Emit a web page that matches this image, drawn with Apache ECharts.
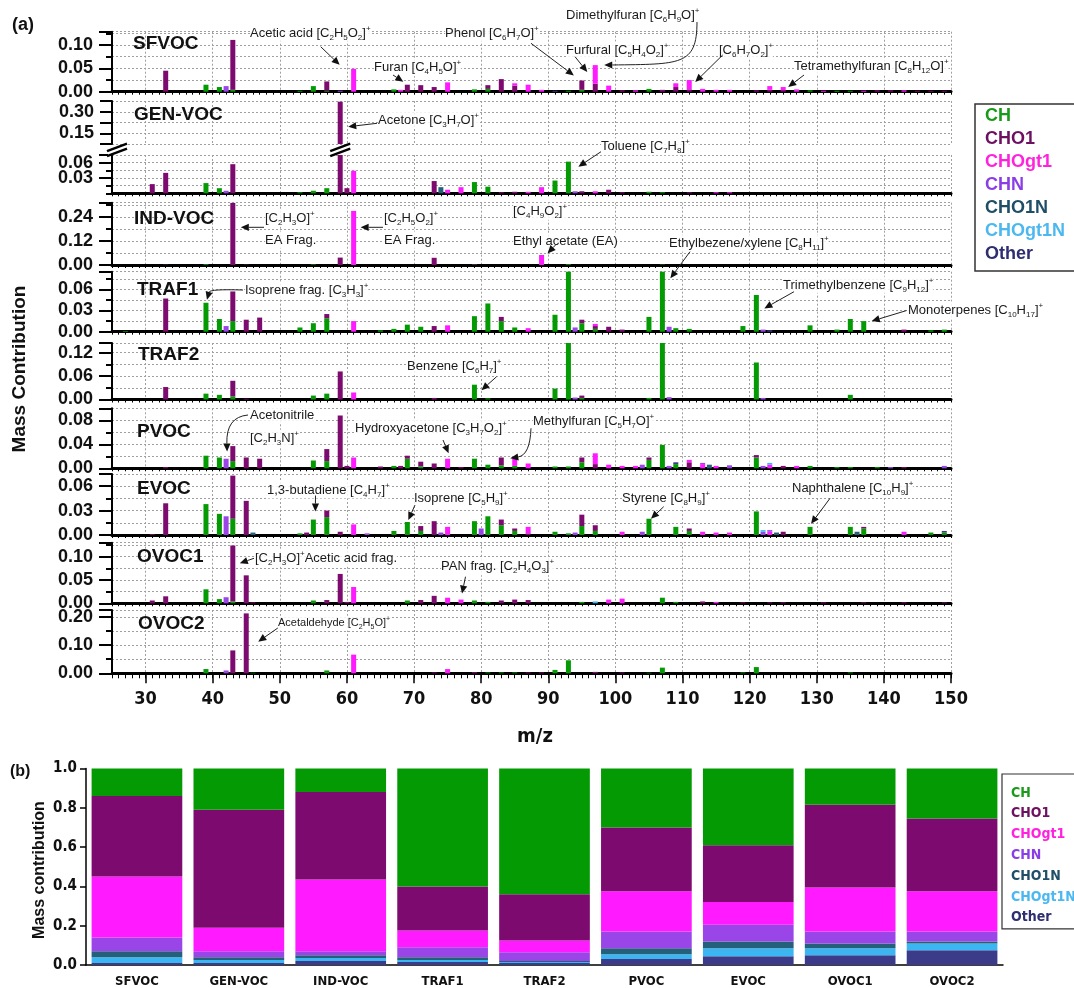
<!DOCTYPE html>
<html><head><meta charset="utf-8">
<script src="https://cdn.jsdelivr.net/npm/echarts@6/dist/echarts.min.js"></script>
<style>html,body{margin:0;padding:0;background:#fff}#c{width:1074px;height:988px}</style>
</head><body><div id="c"></div>
<script>
// ---------------- DATA ----------------
const MZ_START = 25, MZ_END = 150;
const GROUPS = ['CH','CHO1','CHOgt1','CHN','CHO1N','CHOgt1N','Other'];
const X_TICK_LABELS = ['30','40','50','60','70','80','90','100','110','120','130','140','150'];

// panel (a): sparse [m/z, mass contribution] per group
const SFVOC = {
  CH: [[39,.015],[41,.01],[43,.004],[53,.002],[55,.012],[57,.002],[67,.005],[79,.005],[81,.006],[93,.002],[95,.004],[105,.006],[129,.003],[133,.002],[135,.002]],
  CHO1: [[33,.045],[43,.107],[57,.02],[69,.015],[71,.014],[73,.01],[81,.008],[83,.027],[85,.013],[95,.02],[97,.017],[101,.003],[107,.004],[109,.01],[111,.005],[121,.003],[123,.004],[125,.003],[139,.003],[141,.003],[145,.002],[147,.002],[149,.002]],
  CHOgt1: [[61,.049],[68,.004],[75,.02],[85,.005],[87,.015],[89,.004],[97,.04],[99,.013],[103,.003],[109,.008],[111,.02],[113,.006],[115,.004],[117,.004],[123,.008],[125,.007],[127,.005],[131,.002],[137,.002],[143,.003]],
  CHN: [[42,.012],[59,.002]],
  CHO1N: [], CHOgt1N: [], Other: [[91,.002]]
};
const GENVOC = {
  CH: [[39,.02],[41,.01],[53,.002],[55,.005],[57,.01],[79,.022],[81,.013],[91,.025],[93,.062],[105,.003],[107,.002]],
  CHO1: [[31,.018],[33,.04],[43,.057],[59,.37],[60,.01],[73,.024],[83,.002],[85,.003],[95,.004],[99,.007],[101,.002],[111,.002]],
  CHOgt1: [[61,.044],[75,.007],[77,.012],[87,.003],[89,.012],[97,.004],[115,.002],[117,.002]],
  CHN: [[42,.005],[94,.004]],
  CHO1N: [[74,.012]], CHOgt1N: [], Other: []
};
const INDVOC = {
  CH: [[39,.004],[55,.003],[79,.002],[93,.004],[107,.002]],
  CHO1: [[33,.002],[43,.31],[45,.002],[59,.037],[73,.036],[79,.003]],
  CHOgt1: [[61,.27],[89,.05]],
  CHN: [], CHO1N: [], CHOgt1N: [], Other: []
};
const TRAF1 = {
  CH: [[27,.001],[39,.041],[41,.018],[43,.015],[53,.006],[55,.012],[57,.019],[65,.002],[67,.004],[69,.01],[71,.007],[79,.022],[81,.04],[83,.015],[85,.006],[91,.024],[93,.09],[95,.012],[97,.004],[105,.021],[107,.09],[109,.005],[111,.004],[119,.008],[121,.052],[129,.009],[133,.003],[135,.018],[137,.015],[147,.002],[149,.003]],
  CHO1: [[33,.047],[43,.042],[45,.017],[47,.02],[57,.006],[73,.008],[83,.006],[95,.005],[97,.004],[99,.007],[101,.003],[143,.003]],
  CHOgt1: [[61,.015],[75,.009],[87,.005],[97,.003]],
  CHN: [[42,.008],[94,.006],[108,.007],[122,.003]],
  CHO1N: [], CHOgt1N: [], Other: [[123,.002]]
};
const TRAF2 = {
  CH: [[39,.015],[41,.012],[43,.008],[55,.01],[57,.015],[79,.038],[81,.003],[91,.028],[93,.16],[95,.004],[105,.004],[107,.16],[121,.095],[135,.012]],
  CHO1: [[33,.032],[43,.04],[45,.002],[59,.072],[73,.004],[95,.006]],
  CHOgt1: [[61,.018]],
  CHN: [[94,.005],[108,.006],[122,.004]],
  CHO1N: [], CHOgt1N: [], Other: []
};
const PVOC = {
  CH: [[39,.021],[41,.018],[43,.012],[55,.013],[57,.012],[67,.004],[69,.016],[71,.003],[79,.016],[81,.006],[83,.005],[85,.004],[91,.003],[93,.003],[95,.01],[105,.014],[107,.039],[109,.007],[121,.018],[129,.004],[133,.002],[135,.002],[139,.002]],
  CHO1: [[33,.002],[43,.025],[45,.018],[47,.016],[57,.02],[59,.088],[60,.004],[65,.003],[68,.004],[69,.005],[71,.008],[73,.008],[77,.002],[83,.013],[95,.008],[97,.007],[105,.004],[111,.01],[121,.004],[125,.004],[143,.002]],
  CHOgt1: [[61,.018],[75,.016],[85,.012],[87,.008],[97,.018],[99,.006],[101,.004],[103,.004],[111,.004],[113,.007],[115,.004],[123,.006],[127,.004]],
  CHN: [[42,.016],[104,.006],[108,.004],[113,.002],[117,.005],[122,.004],[141,.002],[149,.004]],
  CHO1N: [[114,.006]], CHOgt1N: [[123,.003]], Other: [[109,.003]]
};
const EVOC = {
  CH: [[39,.038],[41,.026],[43,.02],[53,.002],[55,.019],[57,.022],[67,.005],[69,.016],[71,.005],[79,.017],[81,.023],[83,.012],[85,.005],[91,.004],[93,.002],[95,.011],[97,.005],[105,.02],[109,.01],[111,.005],[121,.029],[129,.01],[135,.01],[137,.008],[147,.003],[149,.003]],
  CHO1: [[31,.001],[33,.039],[43,.053],[45,.042],[54,.003],[57,.008],[59,.004],[71,.006],[73,.017],[83,.007],[85,.003],[87,.002],[95,.014],[97,.007],[111,.003],[125,.004],[137,.002]],
  CHOgt1: [[61,.013],[75,.01],[87,.008],[101,.004],[113,.004],[115,.003],[117,.003],[123,.004],[143,.004]],
  CHN: [[42,.023],[63,.002],[74,.003],[80,.008],[94,.003],[104,.004],[122,.004],[123,.002]],
  CHO1N: [[46,.003],[124,.003],[136,.004]], CHOgt1N: [[122,.002]], Other: [[149,.002]]
};
const OVOC1 = {
  CH: [[39,.03],[41,.009],[43,.004],[55,.006],[69,.006],[79,.006],[81,.003],[95,.003],[107,.012],[109,.003]],
  CHO1: [[31,.006],[33,.015],[43,.12],[45,.06],[46,.002],[57,.007],[59,.063],[60,.003],[71,.007],[73,.016],[83,.006],[85,.008],[87,.007],[113,.004],[119,.002],[123,.002],[125,.002],[131,.002],[137,.002],[143,.002],[149,.002]],
  CHOgt1: [[61,.035],[75,.012],[77,.008],[99,.008],[101,.01],[115,.003]],
  CHN: [[42,.013]],
  CHO1N: [], CHOgt1N: [[97,.004]], Other: []
};
const OVOC2 = {
  CH: [[39,.015],[46,.002],[57,.01],[81,.003],[83,.003],[85,.003],[91,.012],[93,.046],[105,.002],[107,.02],[119,.003],[121,.022],[135,.003]],
  CHO1: [[43,.081],[45,.212],[73,.003],[79,.004],[87,.003],[89,.003],[97,.005],[101,.003]],
  CHOgt1: [[61,.066],[75,.015]],
  CHN: [[42,.01]],
  CHO1N: [], CHOgt1N: [], Other: []
};

// panel (b): fraction per factor profile
const PROFILES = ['SFVOC','GEN-VOC','IND-VOC','TRAF1','TRAF2','PVOC','EVOC','OVOC1','OVOC2'];
const FRAC_OTHER   = [0.010,0.010,0.020,0.015,0.010,0.030,0.045,0.050,0.075];
const FRAC_CHOGT1N = [0.030,0.015,0.015,0.010,0.005,0.025,0.040,0.035,0.035];
const FRAC_CHO1N   = [0.030,0.015,0.015,0.015,0.005,0.030,0.035,0.025,0.010];
const FRAC_CHN     = [0.070,0.030,0.020,0.050,0.045,0.085,0.085,0.060,0.050];
const FRAC_CHOGT1  = [0.310,0.120,0.365,0.085,0.060,0.205,0.115,0.225,0.205];
const FRAC_CHO1    = [0.410,0.600,0.445,0.225,0.235,0.325,0.290,0.420,0.370];
const FRAC_CH      = [0.140,0.210,0.120,0.600,0.640,0.300,0.390,0.185,0.255];

// ---------------- STYLE / LAYOUT ----------------
const FONT = "'Liberation Sans', Arial, Helvetica, sans-serif";
const NARROW = "'Liberation Sans Narrow', 'DejaVu Sans Condensed', 'Liberation Sans', Arial, sans-serif";
const COLORS = {CH:'#039a03', CHO1:'#7d0a6e', CHOgt1:'#ff1aff', CHN:'#9a45e8', CHO1N:'#24607a', CHOgt1N:'#3cb6f2', Other:'#3b3b8a'};
const LEG_COLORS = {CH:'#1a9a1a', CHO1:'#6e1060', CHOgt1:'#ff22dd', CHN:'#8a3ee6', CHO1N:'#1f4e66', CHOgt1N:'#4cb8f0', Other:'#2e2e70'};
const GRID_LEFT = 112, GRID_W = 839;
const LAYOUT = [
  {data:SFVOC,  label:'SFVOC',   top:31.7,  h:60,   min:0,     max:0.1286, major:0.05,  minor:0.025, lx:133, ly:43.3},
  {data:GENVOC, label:'GEN-VOC', top:101,   h:43.1, min:0.075, max:0.375,  major:null,  minor:0.075, show:[0.15,0.30], noBase:true, lx:134, ly:115},
  {data:GENVOC, label:null,      top:155,   h:38.3, min:0,     max:0.075,  major:0.03,  minor:0.015},
  {data:INDVOC, label:'IND-VOC', top:202.7, h:62.3, min:0,     max:0.311,  major:0.12,  minor:0.06,  lx:134, ly:218.3},
  {data:TRAF1,  label:'TRAF1',   top:271.7, h:60,   min:0,     max:0.085,  major:0.03,  minor:0.015, lx:137, ly:290},
  {data:TRAF2,  label:'TRAF2',   top:343,   h:56.5, min:0,     max:0.145,  major:0.06,  minor:0.03,  lx:138, ly:355},
  {data:PVOC,   label:'PVOC',    top:408.3, h:60,   min:0,     max:0.1,    major:0.04,  minor:0.02,  lx:137, ly:431.7},
  {data:EVOC,   label:'EVOC',    top:474,   h:61,   min:0,     max:0.075,  major:0.03,  minor:0.015, lx:137, ly:488.3},
  {data:OVOC1,  label:'OVOC1',   top:542.7, h:60.6, min:0,     max:0.13,   major:0.05,  minor:0.025, lx:137, ly:556.7},
  {data:OVOC2,  label:'OVOC2',   top:610,   h:63.3, min:0,     max:0.224,  major:0.1,   minor:0.05,  lx:138, ly:623.3}
];
// annotations: text (left x, middle y), optional arrow from tail to a data point (+pixel nudge)
const ANNOTATIONS = [
  {t:'Acetic acid [C_2H_5O_2]^+', x:250, y:33.3, from:[320.7,46.7], g:0, tip:[61,.049], d:[-14,-4]},
  {t:'Furan [C_4H_5O]^+', x:374, y:67.7, from:[393,75], g:0, tip:[69,.015], d:[-4,-3]},
  {t:'Phenol [C_6H_7O]^+', x:445, y:33.3, from:[531,43.3], g:0, tip:[95,.024], d:[-8,-5]},
  {t:'Dimethylfuran [C_6H_9O]^+', x:566, y:15, from:[697,22], c1:[697,66], c2:[680,64], g:0, tip:[97,.057], d:[9,0]},
  {t:'Furfural [C_5H_4O_2]^+', x:566, y:50, from:[575,56.7], g:0, tip:[97,.04], d:[-8,-1]},
  {t:'[C_6H_7O_2]^+', x:719, y:50, from:[722.7,55], g:0, tip:[111,.025], d:[6,2]},
  {t:'Tetramethylfuran [C_8H_12O]^+', x:794, y:66.7, from:[804,75], g:0, tip:[125,.01], d:[5,0]},
  {t:'Acetone [C_3H_7O]^+', x:378, y:120, from:[377,123.3], g:1, tip:[59,.196], d:[8,0]},
  {t:'Toluene [C_7H_8]^+', x:601, y:146.7, from:[601,151.7], g:2, tip:[93,.052], d:[10,0]},
  {t:'[C_2H_3O]^+', x:265, y:218.3},
  {t:'EA Frag.', x:265, y:240, from:[264,227.3], g:3, tip:[43,.188], d:[8,0]},
  {t:'[C_2H_5O_2]^+', x:384, y:218.3},
  {t:'EA Frag.', x:384, y:240, from:[383,227.3], g:3, tip:[61,.188], d:[7,0]},
  {t:'[C_4H_9O_2]^+', x:513, y:211.7},
  {t:'Ethyl acetate (EA)', x:513, y:241.5, from:[556,244.5], g:3, tip:[89,.058], d:[6,0]},
  {t:'Ethylbezene/xylene [C_8H_11]^+', x:669, y:243.3, from:[690,251.7], g:4, tip:[107,.0757], d:[8,0]},
  {t:'Isoprene frag. [C_3H_3]^+', x:245, y:290, from:[243,290], c1:[210,289], g:4, tip:[39,.041], d:[1,-3]},
  {t:'Trimethylbenzene [C_9H_12]^+', x:783, y:285, from:[794,291.7], g:4, tip:[121,.033], d:[8,0]},
  {t:'Monoterpenes [C_10H_17]^+', x:908, y:310, from:[906.7,310.5], g:4, tip:[137,.015], d:[8,0]},
  {t:'Benzene [C_6H_7]^+', x:407, y:366.7, from:[496.6,376.7], g:5, tip:[79,.024], d:[7,0]},
  {t:'Acetonitrile', x:250, y:415},
  {t:'[C_2H_3N]^+', x:250, y:438.3, from:[248,415], c1:[226,417], g:6, tip:[42,.028], d:[1,0]},
  {t:'Hydroxyacetone [C_3H_7O_2]^+', x:355, y:428.3, from:[443,440], g:6, tip:[75,.025], d:[1,0]},
  {t:'Methylfuran [C_5H_7O]^+', x:533, y:421.7, from:[531,428.3], c1:[530,455], g:6, tip:[83,.0167], d:[9,0]},
  {t:'1,3-butadiene [C_4H_7]^+', x:267, y:490, from:[315.5,495.5], g:7, tip:[55,.019], d:[2,-8]},
  {t:'Isoprene [C_5H_9]^+', x:414, y:498.3, from:[415,505], g:7, tip:[69,.016], d:[1,-2]},
  {t:'Styrene [C_8H_9]^+', x:622, y:498.3, from:[663.7,506.7], g:7, tip:[105,.02], d:[2,0]},
  {t:'Naphthalene [C_10H_9]^+', x:792, y:488.3, from:[830,498.3], g:7, tip:[129,.01], d:[1,-3]},
  {t:'[C_2H_3O]^+Acetic acid frag.', x:255, y:558.3, from:[254,558.3], g:8, tip:[43,.086], d:[7,0]},
  {t:'PAN frag. [C_2H_4O_3]^+', x:441, y:566.7, from:[465.5,576.7], g:8, tip:[77,.008], d:[1,-6]},
  {t:'Acetaldehyde [C_2H_5O]^+', x:278, y:623.3, fs:11, from:[277.8,628], g:9, tip:[45,.112], d:[12,0]}
];

// ---------------- BUILD ----------------
const MZ = [];
for (let m = MZ_START; m <= MZ_END; m++) MZ.push(String(m));
function dense(list) {
  const a = MZ.map(() => 0);
  (list || []).forEach(p => { a[p[0] - MZ_START] += p[1]; });
  return a;
}
const isTen = (i, v) => X_TICK_LABELS.indexOf(String(v)) >= 0;
const DOT = {type:[2,2], color:'#a0a0a0', width:1};
const grids = [], xAxes = [], yAxes = [], series = [];

LAYOUT.forEach((L, i) => {
  grids.push({left:GRID_LEFT, width:GRID_W, top:L.top, height:L.h});
  xAxes.push({
    type:'category', gridIndex:i, data:MZ, boundaryGap:false,
    axisLine:{show:!L.noBase, onZero:false, lineStyle:{color:'#000', width:3}},
    axisTick:{show:!L.noBase, interval:0, length:i===9?5:3, lineStyle:{color:'#000', width:1}},
    axisLabel:{show:false},
    splitLine:{show:true, interval:isTen, lineStyle:DOT}
  });
  yAxes.push({
    type:'value', gridIndex:i, position:'left', min:L.min, max:L.max, interval:L.minor,
    axisLine:{show:true, lineStyle:{color:'#000', width:2}},
    axisTick:{show:true, length:L.major ? 6 : 12, lineStyle:{color:'#000', width:2}},
    splitLine:{show:true, lineStyle:DOT},
    axisLabel:{show:!L.major, margin:18, fontSize:18, fontWeight:'bold', color:'#111', fontFamily:FONT,
      formatter: v => (L.show && L.show.some(s => Math.abs(s - v) < 1e-9)) ? v.toFixed(2) : ''}
  });
  GROUPS.forEach(g => {
    series.push({type:'bar', name:g, xAxisIndex:i, yAxisIndex:i, stack:'s'+i, barWidth:5, clip:true,
      silent:true, itemStyle:{color:COLORS[g]}, data:dense(L.data[g])});
  });
});
// panel (b)
grids.push({left:86, width:917, top:768.5, height:199});
xAxes.push({type:'category', gridIndex:10, data:PROFILES,
  axisLine:{lineStyle:{color:'#000', width:1.5}},
  axisTick:{length:9, lineStyle:{color:'#000', width:1.5}},
  axisLabel:{fontSize:13, fontWeight:'bold', color:'#111', margin:10, fontFamily:NARROW}});
yAxes.push({type:'value', gridIndex:10, min:0, max:1, interval:0.2,
  axisLine:{show:true, lineStyle:{color:'#000', width:1.5}},
  axisTick:{show:true, length:6, lineStyle:{color:'#000', width:1.5}},
  splitLine:{show:false},
  axisLabel:{formatter:v => v.toFixed(1), fontSize:15, fontWeight:'bold', color:'#111', margin:9, fontFamily:NARROW}});
const FRACS = {Other:FRAC_OTHER, CHOgt1N:FRAC_CHOGT1N, CHO1N:FRAC_CHO1N, CHN:FRAC_CHN, CHOgt1:FRAC_CHOGT1, CHO1:FRAC_CHO1, CH:FRAC_CH};
['Other','CHOgt1N','CHO1N','CHN','CHOgt1','CHO1','CH'].forEach(g => {
  series.push({type:'bar', name:g, xAxisIndex:10, yAxisIndex:10, stack:'b', barCategoryGap:'11%',
    silent:true, itemStyle:{color:COLORS[g]}, data:FRACS[g]});
});
// overlay bottom axis: long ticks + labels at every 10
xAxes.push({type:'category', gridIndex:9, data:MZ, boundaryGap:false, position:'bottom',
  axisLine:{show:false}, splitLine:{show:false},
  axisTick:{show:true, interval:isTen, length:10, lineStyle:{color:'#000', width:1.5}},
  axisLabel:{show:true, interval:isTen, margin:17, fontSize:18, fontWeight:'bold', color:'#111', fontFamily:NARROW}});
// overlay y axes: long ticks + labels at major steps
LAYOUT.forEach((L, i) => {
  if (!L.major) return;
  yAxes.push({type:'value', gridIndex:i, position:'left', min:L.min, max:L.max, interval:L.major,
    axisLine:{show:false}, splitLine:{show:false},
    axisTick:{show:true, length:13, lineStyle:{color:'#000', width:2}},
    axisLabel:{margin:19, fontSize:18, fontWeight:'bold', color:'#111', fontFamily:FONT,
      formatter: v => { const r = v / L.major; return Math.abs(r - Math.round(r)) < 1e-6 ? v.toFixed(2) : ''; }}});
});

const chart = echarts.init(document.getElementById('c'), null, {renderer:'canvas'});
chart.setOption({
  animation:false, backgroundColor:'#fff',
  grid:grids, xAxis:xAxes, yAxis:yAxes, series:series,
  legend:[
    {left:975, top:104, orient:'vertical', selectedMode:false, icon:'rect', itemWidth:0, itemHeight:0, itemGap:2,
     borderColor:'#333', borderWidth:1.5, padding:[2,30,6,5],
     textStyle:{fontSize:18, fontWeight:'bold', fontFamily:FONT, lineHeight:21},
     data:GROUPS.map(n => ({name:n, textStyle:{color:LEG_COLORS[n]}}))},
    {left:1002, top:774, orient:'vertical', selectedMode:false, icon:'rect', itemWidth:0, itemHeight:0, itemGap:2.8,
     borderColor:'#333', borderWidth:1.2, padding:[10,30,2,4],
     textStyle:{fontSize:14, fontWeight:'bold', fontFamily:NARROW, lineHeight:18},
     data:GROUPS.map(n => ({name:n, textStyle:{color:LEG_COLORS[n]}}))}
  ]
});

// ---------------- GRAPHICS (labels, breaks, annotations) ----------------
function rich(s) { return s.replace(/_(\d+)/g, '{s|$1}').replace(/\^\+/g, '{p|+}'); }
function txt(x, y, s, fs) {
  const sub = Math.round(fs * 0.62), lh = fs + 4;
  return {type:'text', x:x, y:y, z:60, silent:true,
    style:{text:rich(s), fill:'#1a1a1a', fontSize:fs, fontFamily:FONT, align:'left', verticalAlign:'middle',
      lineHeight:lh, backgroundColor:'rgba(255,255,255,0.85)',
      rich:{s:{fontSize:sub, fontFamily:FONT, fill:'#1a1a1a', verticalAlign:'bottom', lineHeight:lh},
            p:{fontSize:sub, fontFamily:FONT, fill:'#1a1a1a', verticalAlign:'top', lineHeight:lh}}}};
}
function head(x0, y0, x1, y1) {
  const a = Math.atan2(y1 - y0, x1 - x0), L = 8, W = 3.6;
  const bx = x1 - L * Math.cos(a), by = y1 - L * Math.sin(a);
  return {el:{type:'polygon', z:62, silent:true, shape:{points:[[x1,y1],[bx + W*Math.sin(a), by - W*Math.cos(a)],[bx - W*Math.sin(a), by + W*Math.cos(a)]]}, style:{fill:'#111'}}, bx:bx, by:by};
}
const G = [];
const boldTxt = (x, y, s, fs, extra) => Object.assign({type:'text', x:x, y:y, z:60, silent:true,
  style:{text:s, fill:'#111', fontSize:fs, fontWeight:'bold', fontFamily:FONT, align:'left', verticalAlign:'middle'}}, extra || {});
G.push(boldTxt(12, 25, '(a)', 18));
G.push(boldTxt(10, 772, '(b)', 16));
LAYOUT.forEach(L => { if (L.label) G.push(boldTxt(L.lx, L.ly, L.label, 19)); });
G.push({type:'text', x:20, y:369, rotation:Math.PI/2, z:60, silent:true,
  style:{text:'Mass Contribution', fill:'#111', fontSize:19, fontWeight:'bold', fontFamily:FONT, align:'center', verticalAlign:'middle'}});
G.push({type:'text', x:535, y:737, z:60, silent:true,
  style:{text:'m/z', fill:'#111', fontSize:20, fontWeight:'bold', fontFamily:NARROW, align:'center', verticalAlign:'middle'}});
G.push({type:'text', x:40, y:870, rotation:Math.PI/2, z:60, silent:true,
  style:{text:'Mass contribution', fill:'#111', fontSize:16, fontWeight:'bold', fontFamily:FONT, align:'center', verticalAlign:'middle'}});

// axis-break marks for GEN-VOC
const brkY = (LAYOUT[1].top + LAYOUT[1].h + LAYOUT[2].top) / 2;
const acetoneX = chart.convertToPixel({xAxisIndex:2, yAxisIndex:2}, [59 - MZ_START, 0])[0];
[[GRID_LEFT + 5, brkY], [acetoneX, brkY]].forEach(([cx, cy]) => {
  G.push({type:'polygon', z:55, silent:true, shape:{points:[[cx-9,cy+1],[cx+9,cy-6],[cx+9,cy-1],[cx-9,cy+6]]}, style:{fill:'#fff'}});
  G.push({type:'line', z:56, silent:true, shape:{x1:cx-10, y1:cy+1.5, x2:cx+10, y2:cy-6}, style:{stroke:'#000', lineWidth:2.5}});
  G.push({type:'line', z:56, silent:true, shape:{x1:cx-10, y1:cy+6.5, x2:cx+10, y2:cy-1}, style:{stroke:'#000', lineWidth:2.5}});
});

ANNOTATIONS.forEach(A => {
  G.push(txt(A.x, A.y, A.t, A.fs || 13));
  if (!A.tip) return;
  const p = chart.convertToPixel({xAxisIndex:A.g, yAxisIndex:A.g}, [A.tip[0] - MZ_START, A.tip[1]]);
  const tx = p[0] + A.d[0], ty = p[1] + A.d[1];
  const ref = A.c2 || A.c1 || A.from;
  const h = head(ref[0], ref[1], tx, ty);
  const ln = {stroke:'#222', lineWidth:1};
  if (A.c1 && A.c2) {
    G.push({type:'bezierCurve', z:61, silent:true, shape:{x1:A.from[0], y1:A.from[1], cpx1:A.c1[0], cpy1:A.c1[1], cpx2:A.c2[0], cpy2:A.c2[1], x2:h.bx, y2:h.by}, style:Object.assign({fill:null}, ln)});
  } else if (A.c1) {
    G.push({type:'bezierCurve', z:61, silent:true, shape:{x1:A.from[0], y1:A.from[1], cpx1:A.c1[0], cpy1:A.c1[1], x2:h.bx, y2:h.by}, style:Object.assign({fill:null}, ln)});
  } else {
    G.push({type:'line', z:61, silent:true, shape:{x1:A.from[0], y1:A.from[1], x2:h.bx, y2:h.by}, style:ln});
  }
  G.push(h.el);
});
chart.setOption({graphic:{elements:G}});
</script></body></html>
